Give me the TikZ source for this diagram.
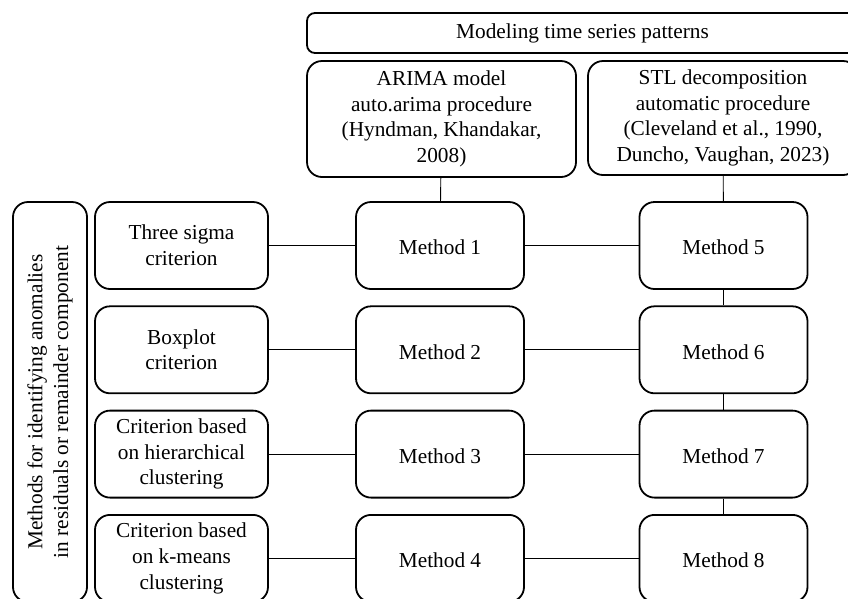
\documentclass[tikz,border=0pt]{standalone}
\usepackage{fontspec}
\setmainfont{Liberation Serif}
\usetikzlibrary{positioning}

\tikzset{
  box/.style={draw, line width=1.8pt, rounded corners=15pt, align=center, inner sep=2pt,
    font=\fontsize{21.3pt}{25.7pt}\selectfont},
  topgap/.style={execute at begin node={\rule{0pt}{#1}}},
  crit/.style={box, minimum width=173pt, minimum height=87pt},
  meth/.style={box, topgap=18.6pt, minimum width=168pt, minimum height=87pt},
  link/.style={line width=0.9pt},
}

\begin{document}
\begin{tikzpicture}[x=1pt,y=-1pt,node distance=104.3pt,on grid]
   \useasboundingbox (0,0) rectangle (848,598);
   \clip (0,0) rectangle (848,598);
   \node[box, rounded corners=8pt, minimum width=551pt, minimum height=40pt] (model) at (582.5,33) {Modeling time series patterns};
   \node[box, minimum width=269pt, minimum height=116pt] (arima) at (441.5,119) {ARIMA model\\auto.arima procedure\\(Hyndman, Khandakar,\\2008)};
   \node[box, minimum width=270pt, minimum height=114pt] (stl) at (723,118) {STL decomposition\\automatic procedure\\(Cleveland et al., 1990,\\Duncho, Vaughan, 2023)};
   \node[box, rotate=90, minimum width=400pt, minimum height=74pt] (anom) at (50,402) {Methods for identifying anomalies\\in residuals or remainder component};
   \node[crit] (c1) at (181.5,245.5) {Three sigma\\criterion};
   \node[crit] (c2) [below=of c1] {Boxplot\\criterion};
   \node[crit] (c3) [below=of c2] {Criterion based\\on hierarchical\\clustering};
   \node[crit] (c4) [below=of c3] {Criterion based\\on k-means\\clustering};
   \node[meth] (m1) [right=258.5pt of c1] {Method 1};
   \node[meth] (m2) [right=258.5pt of c2] {Method 2};
   \node[meth] (m3) [right=258.5pt of c3] {Method 3};
   \node[meth] (m4) [right=258.5pt of c4] {Method 4};
   \node[meth] (m5) [right=283.5pt of m1] {Method 5};
   \node[meth] (m6) [right=283.5pt of m2] {Method 6};
   \node[meth] (m7) [right=283.5pt of m3] {Method 7};
   \node[meth] (m8) [right=283.5pt of m4] {Method 8};
   \path[link]
    (arima) edge (m1)
    (stl) edge (m5)
    (c1) edge (m1)
    (c2) edge (m2)
    (c3) edge (m3)
    (c4) edge (m4)
    (m1) edge (m5)
    (m2) edge (m6)
    (m3) edge (m7)
    (m4) edge (m8)
    (m5) edge (m6)
    (m6) edge (m7)
    (m7) edge (m8);
\end{tikzpicture}
\end{document}
